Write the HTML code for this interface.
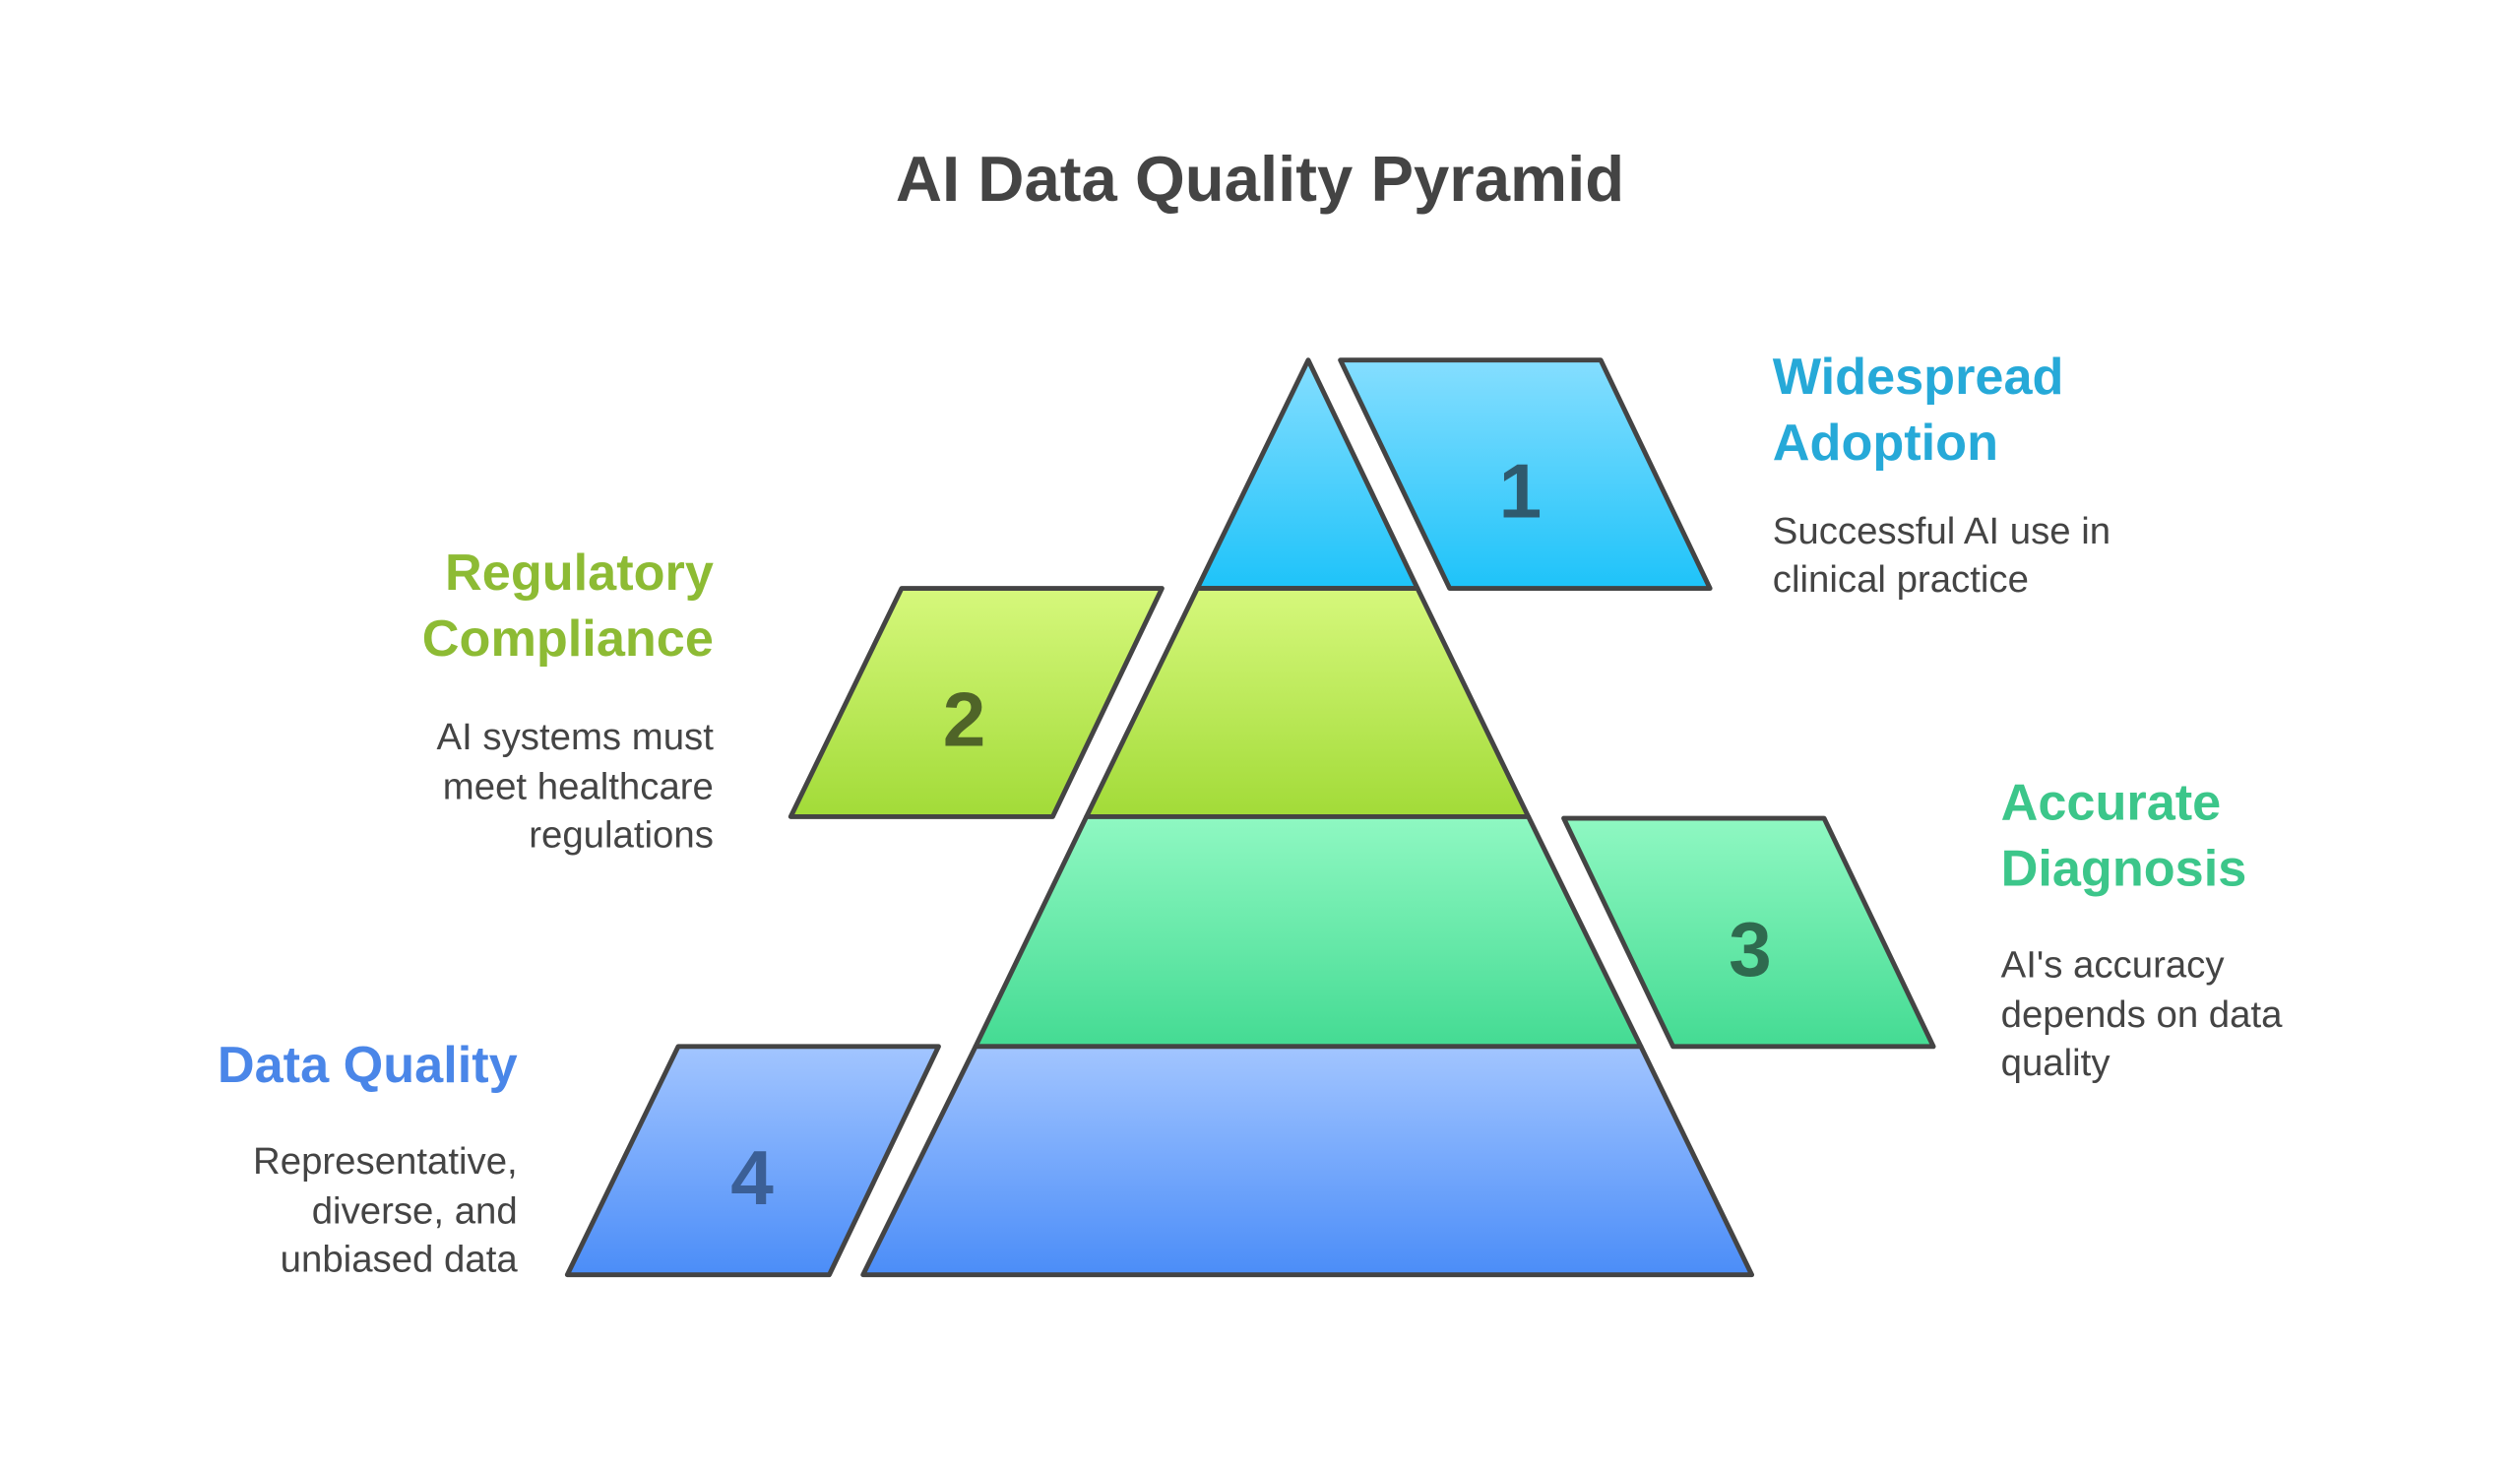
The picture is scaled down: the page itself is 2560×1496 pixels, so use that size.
<!DOCTYPE html>
<html><head><meta charset="utf-8"><style>
html,body{margin:0;padding:0;background:#fff;}
svg{display:block;}
text{font-family:"Liberation Sans",sans-serif;}
</style></head><body>
<svg width="2560" height="1496" viewBox="0 0 1568 916.3" xmlns="http://www.w3.org/2000/svg">
<defs>
<linearGradient id="g1" x1="0" y1="0" x2="0" y2="1"><stop offset="0" stop-color="#85deff"/><stop offset="1" stop-color="#1ec3f9"/></linearGradient>
<linearGradient id="g2" x1="0" y1="0" x2="0" y2="1"><stop offset="0" stop-color="#d6f87c"/><stop offset="1" stop-color="#a2db38"/></linearGradient>
<linearGradient id="g3" x1="0" y1="0" x2="0" y2="1"><stop offset="0" stop-color="#8ff8c2"/><stop offset="1" stop-color="#44db93"/></linearGradient>
<linearGradient id="g4" x1="0" y1="0" x2="0" y2="1"><stop offset="0" stop-color="#a2c5ff"/><stop offset="1" stop-color="#4b8df8"/></linearGradient>
</defs>
<text x="784" y="125" text-anchor="middle" font-size="40" font-weight="bold" fill="#444">AI Data Quality Pyramid</text>
<g stroke="#444" stroke-width="3" stroke-linejoin="round">
<polygon points="814,224 882,366 745,366" fill="url(#g1)"/>
<polygon points="745,366 882,366 951,508 676,508" fill="url(#g2)"/>
<polygon points="676,508 951,508 1021,651 607,651" fill="url(#g3)"/>
<polygon points="607,651 1021,651 1090,793 537,793" fill="url(#g4)"/>
<polygon points="834,224 996,224 1064,366 902,366" fill="url(#g1)"/>
<polygon points="561,366 723,366 655,508 492,508" fill="url(#g2)"/>
<polygon points="973,509 1135,509 1203,651 1041,651" fill="url(#g3)"/>
<polygon points="422,651 584,651 516,793 353,793" fill="url(#g4)"/>
</g>
<g font-size="48" font-weight="bold" text-anchor="middle">
<text x="946" y="322" fill="#2f5a6e">1</text>
<text x="600" y="464" fill="#4f6428">2</text>
<text x="1089" y="607" fill="#2f6a4f">3</text>
<text x="468" y="749" fill="#3b5f96">4</text>
</g>
<g font-size="32" font-weight="bold">
<text x="1103" y="245" fill="#26a9d8">Widespread</text>
<text x="1103" y="286" fill="#26a9d8">Adoption</text>
<text x="444" y="367" fill="#8dbb34" text-anchor="end">Regulatory</text>
<text x="444" y="408" fill="#8dbb34" text-anchor="end">Compliance</text>
<text x="1245" y="510" fill="#3cc68a">Accurate</text>
<text x="1245" y="551" fill="#3cc68a">Diagnosis</text>
<text x="322" y="673" fill="#4a86e8" text-anchor="end">Data Quality</text>
</g>
<g font-size="23.5" fill="#444">
<text x="1103" y="338">Successful AI use in</text>
<text x="1103" y="368">clinical practice</text>
<g text-anchor="end">
<text x="444" y="466">AI systems must</text>
<text x="444" y="497">meet healthcare</text>
<text x="444" y="527">regulations</text>
<text x="322" y="730">Representative,</text>
<text x="322" y="761">diverse, and</text>
<text x="322" y="791">unbiased data</text>
</g>
<text x="1245" y="608">AI's accuracy</text>
<text x="1245" y="639">depends on data</text>
<text x="1245" y="669">quality</text>
</g>
</svg>
</body></html>
